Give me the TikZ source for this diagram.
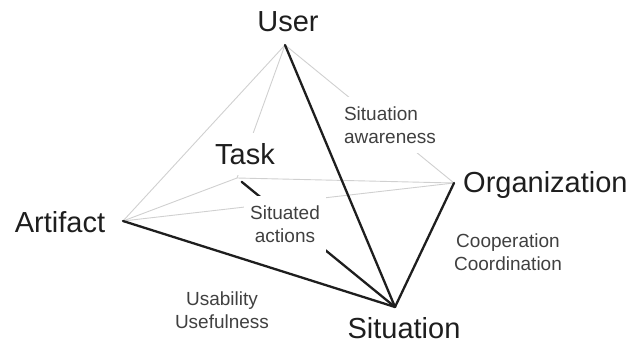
\documentclass[tikz,border=0pt]{standalone}
\usepackage{fontspec}
\setmainfont{Liberation Sans}
\usepackage{xcolor}
\definecolor{ink}{HTML}{1E1E1E}
\definecolor{faint}{HTML}{D0D0D0}
\tikzset{
  edge/.style={line width=2.3pt,ink,line cap=round},
  backedge/.style={line width=0.9pt,faint},
  big/.style={text=ink,font=\fontsize{29}{34}\selectfont},
  small/.style={text=ink!85,font=\fontsize{19}{23}\selectfont,align=center},
  gap/.style={fill=white,inner xsep=6pt,inner ysep=10pt}
}

\begin{document}
\begin{tikzpicture}[x=1pt,y=-1pt]
\useasboundingbox (0,0) rectangle (629,345);
% corners of the pyramid
\coordinate (user) at (285,45);
\coordinate (task) at (237,178);
\coordinate (artifact) at (123,221);
\coordinate (org) at (454,183);
\coordinate (situation) at (395,307);
% hidden edges
\draw[backedge] (user) -- (artifact);
\draw[backedge] (user) -- (task);
\draw[backedge] (user) -- (org);
\draw[backedge] (artifact) -- (task);
\draw[backedge] (artifact) -- (org);
\draw[backedge] (task) -- (org);
% front edges
\draw[edge,shorten <=6pt] (task) -- (situation);
\draw[edge] (user) -- (situation);
\draw[edge] (artifact) -- (situation);
\draw[edge] (org) -- (situation);
% labels
\node[big] (userlbl) at (288,22) {User};
\node[big,gap,inner xsep=2pt] (tasklbl) at (245,154) {Task};
\node[big] (artifactlbl) at (60,222) {Artifact};
\node[big,anchor=west,inner sep=0pt] (orglbl) at (463,185) {Organization};
\node[big] (situationlbl) at (404,328) {Situation};
\node[small,gap,align=left] (awareness) at (390,125) {Situation\\awareness};
\node[small,gap] (actions) at (285,224) {Situated\\actions};
\node[small] (usability) at (222,310) {Usability\\Usefulness};
\node[small] (cooperation) at (508,252) {Cooperation\\Coordination};
\end{tikzpicture}
\end{document}
